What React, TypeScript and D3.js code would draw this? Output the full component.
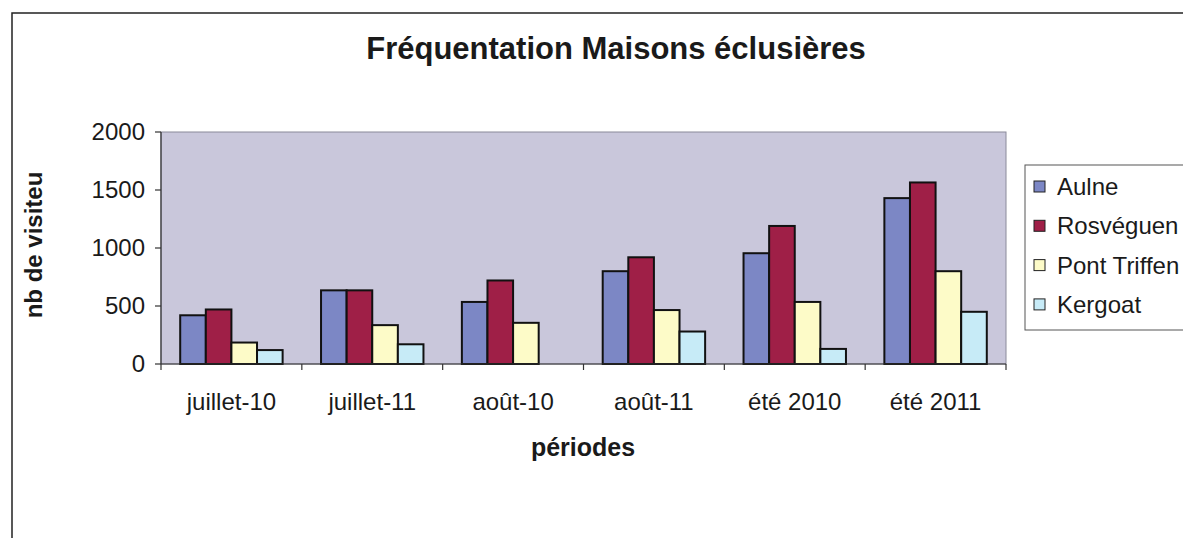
import React from "react";
import * as d3 from "d3";

const categories = ["juillet-10", "juillet-11", "août-10", "août-11", "été 2010", "été 2011"];
const seriesNames = ["Aulne", "Rosvéguen", "Pont Triffen", "Kergoat"];
const aulne = [420, 635, 535, 800, 955, 1430];
const rosveguen = [470, 635, 720, 920, 1190, 1565];
const pontTriffen = [185, 335, 355, 465, 535, 800];
const kergoat = [120, 170, 0, 280, 130, 450];
const yTicks = [0, 500, 1000, 1500, 2000];

const seriesValues = [aulne, rosveguen, pontTriffen, kergoat];
const colors = ["#7c87c5", "#9f1f47", "#fdfbc8", "#c7ebf7"];

const W = 1183;
const H = 538;
const plot = { left: 161, right: 1006, top: 132, bottom: 364 };
const font = "'Liberation Sans', Arial, sans-serif";

export default function App() {
  const x0 = d3
    .scaleBand<string>()
    .domain(categories)
    .range([plot.left, plot.right])
    .paddingInner(0)
    .paddingOuter(0);

  const x1 = d3
    .scaleBand<string>()
    .domain(seriesNames)
    .range([0, x0.bandwidth()])
    .paddingInner(0)
    .paddingOuter(0.75);

  const y = d3.scaleLinear().domain([0, 2000]).range([plot.bottom, plot.top]);

  const boundaries = [...categories.map((c) => x0(c)!), plot.right];

  return (
    <svg
      width={W}
      height={H}
      style={{ position: "fixed", left: 0, top: 0, background: "#fff" }}
      fontFamily={font}
    >
      {/* chart frame, runs off the right and bottom */}
      <rect x={12} y={13} width={W} height={H} fill="#fff" stroke="#222" strokeWidth={1.5} />

      <text x={616} y={59} textAnchor="middle" fontSize={31} fontWeight="bold" fill="#1a1a1a">
        Fréquentation Maisons éclusières
      </text>

      {/* plot area */}
      <rect
        x={plot.left}
        y={plot.top}
        width={plot.right - plot.left}
        height={plot.bottom - plot.top}
        fill="#c9c7db"
        stroke="#8a8a9a"
        strokeWidth={1}
      />

      {/* bars */}
      {categories.map((c, ci) => (
        <g key={c} transform={`translate(${x0(c)},0)`}>
          {seriesNames.map((s, si) => {
            const v = seriesValues[si][ci];
            if (!v) return null;
            return (
              <rect
                key={s}
                x={x1(s)}
                y={y(v)}
                width={x1.bandwidth()}
                height={plot.bottom - y(v)}
                fill={colors[si]}
                stroke="#111"
                strokeWidth={2}
              />
            );
          })}
        </g>
      ))}

      {/* y axis */}
      <line x1={plot.left} x2={plot.left} y1={plot.top} y2={plot.bottom} stroke="#333" strokeWidth={1.2} />
      {yTicks.map((t) => (
        <g key={t}>
          <line x1={plot.left - 6} x2={plot.left} y1={y(t)} y2={y(t)} stroke="#333" strokeWidth={1.2} />
          <text x={145} y={y(t) + 8} textAnchor="end" fontSize={24} fill="#1a1a1a">
            {t}
          </text>
        </g>
      ))}

      {/* x axis */}
      <line x1={plot.left} x2={plot.right} y1={plot.bottom} y2={plot.bottom} stroke="#333" strokeWidth={1.2} />
      {boundaries.map((bx, i) => (
        <line key={i} x1={bx} x2={bx} y1={plot.bottom} y2={plot.bottom + 6} stroke="#333" strokeWidth={1.2} />
      ))}
      {categories.map((c) => (
        <text
          key={c}
          x={x0(c)! + x0.bandwidth() / 2}
          y={410}
          textAnchor="middle"
          fontSize={24}
          fill="#1a1a1a"
        >
          {c}
        </text>
      ))}

      <text x={583} y={456} textAnchor="middle" fontSize={25} fontWeight="bold" fill="#1a1a1a">
        périodes
      </text>
      <text
        transform="translate(42,245) rotate(-90)"
        textAnchor="middle"
        fontSize={24}
        fontWeight="bold"
        fill="#1a1a1a"
      >
        nb de visiteu
      </text>

      {/* legend, cut off on the right */}
      <rect x={1025} y={165} width={200} height={165} fill="#fff" stroke="#555" strokeWidth={1} />
      {seriesNames.map((s, i) => (
        <g key={s} transform={`translate(1034,${187 + i * 39.3})`}>
          <rect x={0} y={-6} width={11} height={11} fill={colors[i]} stroke="#222" strokeWidth={1} />
          <text x={23} y={8} fontSize={24} fill="#1a1a1a">
            {s}
          </text>
        </g>
      ))}
    </svg>
  );
}
